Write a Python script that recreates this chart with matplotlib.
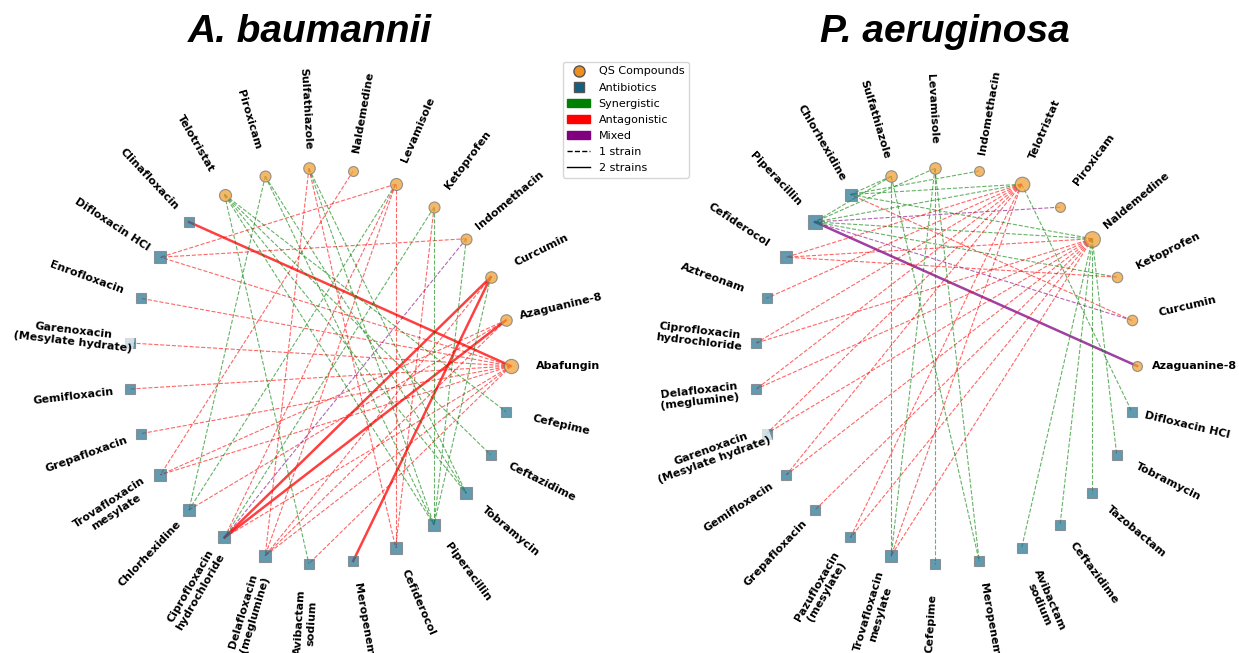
import numpy as np
import matplotlib.pyplot as plt
from matplotlib.lines import Line2D
from matplotlib.patches import Patch

# ---- A. baumannii network ----
ab_qs = ['Abafungin', 'Azaguanine-8', 'Curcumin', 'Indomethacin', 'Ketoprofen',
         'Levamisole', 'Naldemedine', 'Sulfathiazole', 'Piroxicam', 'Telotristat']
ab_abx = ['Clinafloxacin', 'Difloxacin HCl', 'Enrofloxacin', 'Garenoxacin (Mesylate hydrate)',
          'Gemifloxacin', 'Grepafloxacin', 'Trovafloxacin mesylate', 'Chlorhexidine',
          'Ciprofloxacin hydrochloride', 'Delafloxacin (meglumine)', 'Avibactam sodium',
          'Meropenem', 'Cefiderocol', 'Piperacillin', 'Tobramycin', 'Ceftazidime', 'Cefepime']
ab_edges = [
    ('Abafungin', 'Clinafloxacin', 'ant', 2),
    ('Abafungin', 'Difloxacin HCl', 'ant', 1),
    ('Abafungin', 'Enrofloxacin', 'ant', 1),
    ('Abafungin', 'Garenoxacin (Mesylate hydrate)', 'ant', 1),
    ('Abafungin', 'Gemifloxacin', 'ant', 1),
    ('Abafungin', 'Grepafloxacin', 'ant', 1),
    ('Abafungin', 'Trovafloxacin mesylate', 'ant', 1),
    ('Abafungin', 'Ciprofloxacin hydrochloride', 'ant', 1),
    ('Abafungin', 'Delafloxacin (meglumine)', 'ant', 1),
    ('Abafungin', 'Avibactam sodium', 'ant', 1),
    ('Azaguanine-8', 'Ciprofloxacin hydrochloride', 'ant', 2),
    ('Azaguanine-8', 'Trovafloxacin mesylate', 'ant', 1),
    ('Azaguanine-8', 'Chlorhexidine', 'ant', 1),
    ('Azaguanine-8', 'Delafloxacin (meglumine)', 'ant', 1),
    ('Curcumin', 'Ciprofloxacin hydrochloride', 'ant', 2),
    ('Curcumin', 'Meropenem', 'ant', 2),
    ('Curcumin', 'Delafloxacin (meglumine)', 'ant', 1),
    ('Curcumin', 'Piperacillin', 'syn', 1),
    ('Indomethacin', 'Difloxacin HCl', 'ant', 1),
    ('Indomethacin', 'Ciprofloxacin hydrochloride', 'mix', 1),
    ('Indomethacin', 'Piperacillin', 'syn', 1),
    ('Ketoprofen', 'Piperacillin', 'syn', 1),
    ('Ketoprofen', 'Ciprofloxacin hydrochloride', 'syn', 1),
    ('Ketoprofen', 'Cefiderocol', 'ant', 1),
    ('Levamisole', 'Difloxacin HCl', 'ant', 1),
    ('Levamisole', 'Chlorhexidine', 'syn', 1),
    ('Levamisole', 'Ciprofloxacin hydrochloride', 'ant', 1),
    ('Levamisole', 'Delafloxacin (meglumine)', 'ant', 1),
    ('Levamisole', 'Cefiderocol', 'ant', 1),
    ('Naldemedine', 'Trovafloxacin mesylate', 'ant', 1),
    ('Sulfathiazole', 'Delafloxacin (meglumine)', 'ant', 1),
    ('Sulfathiazole', 'Cefiderocol', 'ant', 1),
    ('Sulfathiazole', 'Piperacillin', 'syn', 1),
    ('Sulfathiazole', 'Tobramycin', 'syn', 1),
    ('Piroxicam', 'Chlorhexidine', 'syn', 1),
    ('Piroxicam', 'Piperacillin', 'syn', 1),
    ('Piroxicam', 'Tobramycin', 'syn', 1),
    ('Telotristat', 'Cefepime', 'syn', 1),
    ('Telotristat', 'Ceftazidime', 'syn', 1),
    ('Telotristat', 'Tobramycin', 'syn', 1),
    ('Telotristat', 'Piperacillin', 'syn', 1),
    ('Telotristat', 'Avibactam sodium', 'syn', 1),
]

# ---- P. aeruginosa network ----
pa_qs = ['Azaguanine-8', 'Curcumin', 'Ketoprofen', 'Naldemedine', 'Piroxicam',
         'Telotristat', 'Indomethacin', 'Levamisole', 'Sulfathiazole']
pa_abx = ['Chlorhexidine', 'Piperacillin', 'Cefiderocol', 'Aztreonam',
          'Ciprofloxacin hydrochloride', 'Delafloxacin (meglumine)',
          'Garenoxacin (Mesylate hydrate)', 'Gemifloxacin', 'Grepafloxacin',
          'Pazufloxacin (mesylate)', 'Trovafloxacin mesylate', 'Cefepime', 'Meropenem',
          'Avibactam sodium', 'Ceftazidime', 'Tazobactam', 'Tobramycin', 'Difloxacin HCl']
pa_edges = [
    ('Azaguanine-8', 'Piperacillin', 'mix', 2),
    ('Curcumin', 'Piperacillin', 'mix', 1),
    ('Curcumin', 'Chlorhexidine', 'ant', 1),
    ('Piroxicam', 'Piperacillin', 'mix', 1),
    ('Ketoprofen', 'Piperacillin', 'syn', 1),
    ('Ketoprofen', 'Cefiderocol', 'ant', 1),
    ('Naldemedine', 'Piperacillin', 'syn', 1),
    ('Naldemedine', 'Chlorhexidine', 'syn', 1),
    ('Naldemedine', 'Cefiderocol', 'ant', 1),
    ('Naldemedine', 'Ciprofloxacin hydrochloride', 'ant', 1),
    ('Naldemedine', 'Delafloxacin (meglumine)', 'ant', 1),
    ('Naldemedine', 'Garenoxacin (Mesylate hydrate)', 'ant', 1),
    ('Naldemedine', 'Gemifloxacin', 'ant', 1),
    ('Naldemedine', 'Grepafloxacin', 'ant', 1),
    ('Naldemedine', 'Pazufloxacin (mesylate)', 'ant', 1),
    ('Naldemedine', 'Trovafloxacin mesylate', 'ant', 1),
    ('Naldemedine', 'Avibactam sodium', 'syn', 1),
    ('Naldemedine', 'Ceftazidime', 'syn', 1),
    ('Naldemedine', 'Tazobactam', 'syn', 1),
    ('Naldemedine', 'Tobramycin', 'syn', 1),
    ('Telotristat', 'Chlorhexidine', 'syn', 1),
    ('Telotristat', 'Piperacillin', 'syn', 1),
    ('Telotristat', 'Cefiderocol', 'ant', 1),
    ('Telotristat', 'Aztreonam', 'ant', 1),
    ('Telotristat', 'Ciprofloxacin hydrochloride', 'ant', 1),
    ('Telotristat', 'Delafloxacin (meglumine)', 'ant', 1),
    ('Telotristat', 'Garenoxacin (Mesylate hydrate)', 'ant', 1),
    ('Telotristat', 'Gemifloxacin', 'ant', 1),
    ('Telotristat', 'Pazufloxacin (mesylate)', 'ant', 1),
    ('Telotristat', 'Trovafloxacin mesylate', 'ant', 1),
    ('Telotristat', 'Difloxacin HCl', 'syn', 1),
    ('Indomethacin', 'Chlorhexidine', 'syn', 1),
    ('Levamisole', 'Piperacillin', 'syn', 1),
    ('Levamisole', 'Trovafloxacin mesylate', 'syn', 1),
    ('Levamisole', 'Cefepime', 'syn', 1),
    ('Levamisole', 'Meropenem', 'syn', 1),
    ('Sulfathiazole', 'Chlorhexidine', 'syn', 1),
    ('Sulfathiazole', 'Piperacillin', 'syn', 1),
    ('Sulfathiazole', 'Trovafloxacin mesylate', 'syn', 1),
    ('Sulfathiazole', 'Meropenem', 'syn', 1),
]

# names that get broken over two lines
wrap = {
    'Garenoxacin (Mesylate hydrate)': 'Garenoxacin\n(Mesylate hydrate)',
    'Trovafloxacin mesylate': 'Trovafloxacin\nmesylate',
    'Ciprofloxacin hydrochloride': 'Ciprofloxacin\nhydrochloride',
    'Delafloxacin (meglumine)': 'Delafloxacin\n(meglumine)',
    'Avibactam sodium': 'Avibactam\nsodium',
    'Pazufloxacin (mesylate)': 'Pazufloxacin\n(mesylate)',
}

effect_color = {'syn': 'green', 'ant': 'red', 'mix': 'purple'}
qs_color = '#F0A035'
abx_color = '#1F6F8E'

W, H = 1239, 653
fig = plt.figure(figsize=(W / 100, H / 100), dpi=100)


def draw_network(box, qs, abx, edges, title, title_x):
    x0, x1, ytop = box
    ax = fig.add_axes([x0 / W, 0, (x1 - x0) / W, (H - ytop) / H])
    half = (x1 - x0) / 2 / 191
    cy = 366
    ax.set_xlim(-half, half)
    ax.set_ylim(-(H - cy) / 198, (cy - ytop) / 198)
    ax.axis('off')

    nodes = qs + abx
    n = len(nodes)
    ang = np.linspace(0, 2 * np.pi, n, endpoint=False)
    pos = {name: (np.cos(a), np.sin(a)) for name, a in zip(nodes, ang)}
    degree = {name: 0 for name in nodes}
    for q, a, eff, strains in edges:
        degree[q] += 1
        degree[a] += 1

    for q, a, eff, strains in edges:
        (xa, ya), (xb, yb) = pos[q], pos[a]
        if strains == 2:
            ax.plot([xa, xb], [ya, yb], color=effect_color[eff], lw=1.8, alpha=0.75, zorder=1)
        else:
            ax.plot([xa, xb], [ya, yb], color=effect_color[eff], lw=0.8, ls='--', alpha=0.6, zorder=1)

    for name in nodes:
        x, y = pos[name]
        size = 45 + 6 * degree[name]
        if name in qs:
            ax.scatter(x, y, s=size, marker='o', color=qs_color, alpha=0.75,
                       edgecolors='#777777', linewidths=0.8, zorder=2)
        else:
            ax.scatter(x, y, s=size, marker='s', color=abx_color, alpha=0.7,
                       edgecolors='#777777', linewidths=0.8, zorder=2)

    # radial labels, turned so that none reads upside down
    for name, a in zip(nodes, ang):
        deg = np.degrees(a)
        rot = deg - 180 if 90 < deg < 270 else deg
        ax.text(1.3 * np.cos(a), 1.3 * np.sin(a), wrap.get(name, name),
                rotation=rot, rotation_mode='anchor', ha='center', va='center',
                multialignment='center', fontsize=8, fontweight='bold', zorder=3,
                bbox=dict(facecolor='white', edgecolor='none', alpha=0.7, pad=1))

    fig.text(title_x / W, 1 - 32 / H, title, ha='center', va='center',
             fontsize=28, fontweight='bold', fontstyle='italic', family='Liberation Sans')


draw_network((10, 630, 60), ab_qs, ab_abx, ab_edges, 'A. baumannii', 310)
draw_network((656, 1236, 60), pa_qs, pa_abx, pa_edges, 'P. aeruginosa', 945)

handles = [
    Line2D([], [], marker='o', ls='none', markerfacecolor='#EE9020', markeredgecolor='#555555', markersize=8),
    Line2D([], [], marker='s', ls='none', markerfacecolor='#15607F', markeredgecolor='#555555', markersize=7),
    Patch(color='green'),
    Patch(color='red'),
    Patch(color='purple'),
    Line2D([], [], color='black', ls='--', lw=1),
    Line2D([], [], color='black', lw=1),
]
labels = ['QS Compounds', 'Antibiotics', 'Synergistic', 'Antagonistic', 'Mixed', '1 strain', '2 strains']
fig.legend(handles, labels, loc='upper left', bbox_to_anchor=(563 / W, 1 - 62 / H),
           borderaxespad=0, fontsize=8, frameon=True, handlelength=2, handletextpad=0.8,
           labelspacing=0.55, borderpad=0.4)

fig.savefig('out.png', dpi=100)
